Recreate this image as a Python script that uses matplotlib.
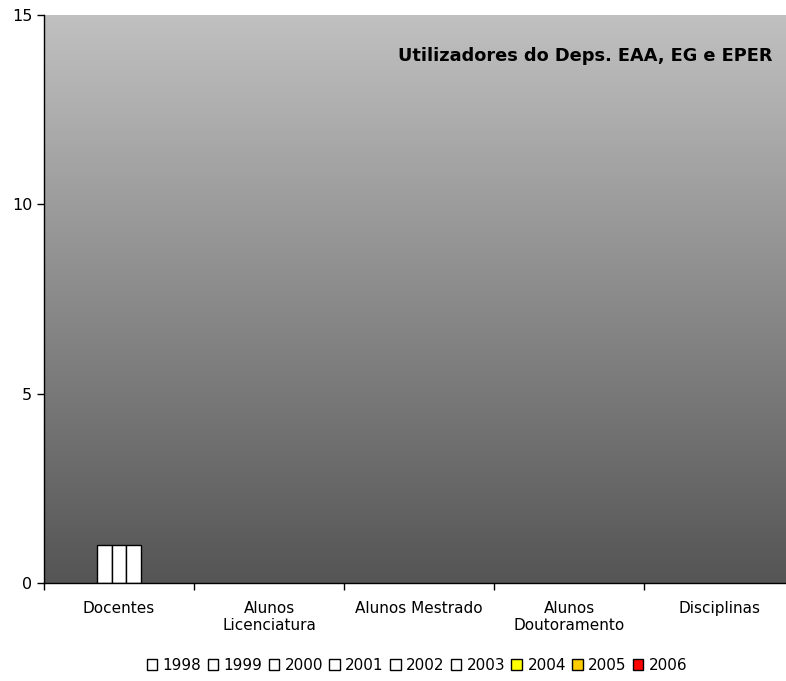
import numpy as np
import matplotlib
matplotlib.use("Agg")
import matplotlib.pyplot as plt
from matplotlib.patches import Patch

categories = ["Docentes", "Alunos\nLicenciatura", "Alunos Mestrado",
              "Alunos\nDoutoramento", "Disciplinas"]
years = ["1998", "1999", "2000", "2001", "2002", "2003", "2004", "2005", "2006"]
colors = ["white", "white", "white", "white", "white", "white",
          "#ffff00", "#ffcc00", "#ff0000"]
nan = np.nan
values = {
    "1998": [1, nan, nan, nan, nan],
    "1999": [1, nan, nan, nan, nan],
    "2000": [1, nan, nan, nan, nan],
    "2001": [nan, nan, nan, nan, nan],
    "2002": [nan, nan, nan, nan, nan],
    "2003": [nan, nan, nan, nan, nan],
    "2004": [nan, nan, nan, nan, nan],
    "2005": [nan, nan, nan, nan, nan],
    "2006": [nan, nan, nan, nan, nan],
}

plt.rcParams["font.family"] = ["DejaVu Sans"]

W, H = 786, 681
fig = plt.figure(figsize=(W / 100, H / 100), dpi=100)
left, right, top_px, bottom_px = 44, 794, 15, 583
ax = fig.add_axes([left / W, 1 - bottom_px / H, (right - left) / W, (bottom_px - top_px) / H])

# vertical gray gradient behind the bars
grad = np.linspace(0, 1, 256).reshape(-1, 1)
top = np.array([0xc0, 0xc0, 0xc0]) / 255
bot = np.array([0x55, 0x55, 0x55]) / 255
img = top + (bot - top) * grad[..., None]
ax.imshow(img, extent=[-0.5, len(categories) - 0.5, 0, 15], aspect="auto",
          origin="upper", zorder=0)

bw = 0.097
for ci in range(len(categories)):
    present = [k for k, y in enumerate(years) if not np.isnan(values[y][ci])]
    n = len(present)
    for j, k in enumerate(present):
        x = ci + (j - (n - 1) / 2) * bw
        ax.bar(x, values[years[k]][ci], width=bw, color=colors[k],
               edgecolor="black", linewidth=1, zorder=2)

ax.set_xlim(-0.5, len(categories) - 0.5)
ax.set_ylim(0, 15)
ax.set_yticks([0, 5, 10, 15])
ax.set_xticks(np.arange(-0.5, len(categories)), minor=False)
ax.set_xticklabels([])
ax.set_xticks(np.arange(len(categories)), minor=True)
ax.set_xticklabels(categories, minor=True)
ax.tick_params(axis="x", which="minor", length=0, pad=13, labelsize=11)
ax.tick_params(axis="x", which="major", length=5, direction="out", width=1)
ax.tick_params(axis="y", length=5, direction="out", labelsize=11.5, width=1)
for s in ["top", "right"]:
    ax.spines[s].set_visible(False)
for s in ["left", "bottom"]:
    ax.spines[s].set_color("black")
    ax.spines[s].set_linewidth(1)

fig.text(772 / W, 1 - 56 / H, "Utilizadores do Deps. EAA, EG e EPER",
         ha="right", va="center", fontsize=12.8, fontweight="bold", color="black")

handles = [Patch(facecolor=c, edgecolor="black", label=y) for y, c in zip(years, colors)]
fig.legend(handles=handles, loc="center", bbox_to_anchor=(417 / W, 1 - 665 / H),
           ncol=9, frameon=False, fontsize=11, handlelength=0.7, handleheight=0.7,
           handletextpad=0.35, columnspacing=0.4, borderaxespad=0)

fig.savefig("out.png", dpi=100)
